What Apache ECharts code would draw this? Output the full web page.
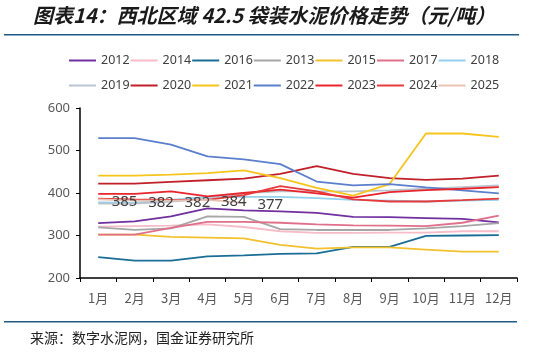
<!DOCTYPE html>
<html>
<head>
<meta charset="utf-8">
<script src="https://cdn.jsdelivr.net/npm/echarts@6/dist/echarts.min.js"></script>
<style>
html, body { margin: 0; padding: 0; background: #fff; }
#main { width: 559px; height: 353px; }
</style>
</head>
<body>
<div id="main"></div>
<script>
// 月份
var months = ['1月', '2月', '3月', '4月', '5月', '6月', '7月', '8月', '9月', '10月', '11月', '12月'];

// 各年价格（元/吨）
var y2012 = [329, 333, 345, 364, 359, 357, 353, 344, 343, 341, 339, 331];
var y2014 = [321, 322, 323, 326, 320, 310, 306, 306, 307, 307, 310, 310];
var y2016 = [249, 241, 241, 251, 253, 257, 258, 273, 273, 299, 300, 301];
var y2013 = [319, 313, 317, 345, 344, 315, 313, 313, 313, 317, 322, 329];
var y2015 = [302, 302, 297, 295, 293, 278, 269, 272, 272, 267, 262, 262];
var y2017 = [302, 302, 318, 332, 332, 330, 326, 324, 323, 322, 330, 347];
var y2018 = [378, 377, 384, 391, 391, 391, 388, 384, 382, 380, 382, 384];
var y2019 = [375, 375, 380, 386, 400, 404, 404, 404, 406, 410, 414, 418];
var y2020 = [422, 422, 426, 430, 434, 445, 463, 445, 435, 431, 434, 441];
var y2021 = [441, 441, 443, 447, 453, 435, 412, 394, 421, 540, 540, 532];
var y2022 = [529, 529, 514, 486, 479, 468, 427, 418, 421, 413, 406, 399];
var y2023 = [398, 398, 404, 392, 400, 408, 399, 389, 402, 407, 410, 414];
var y2024 = [387, 385, 384, 384, 395, 416, 404, 385, 380, 380, 383, 387];
var y2025 = [385, 382, 382, 384, 377];

var legendRow1 = ['2012', '2014', '2016', '2013', '2015', '2017', '2018'];
var legendRow2 = ['2019', '2020', '2021', '2022', '2023', '2024', '2025'];

var myChart = echarts.init(document.getElementById('main'));

function line(name, data, color, extra) {
    var s = {
        name: name,
        type: 'line',
        data: data,
        symbol: 'none',
        smooth: false,
        lineStyle: { color: color, width: 1.8 },
        itemStyle: { color: color }
    };
    if (extra) {
        for (var k in extra) s[k] = extra[k];
    }
    return s;
}

var legendBase = {
    left: 64,
    icon: 'rect',
    itemWidth: 27,
    itemHeight: 2,
    itemGap: 1,
    textStyle: { color: '#404040', fontSize: 12.5, fontFamily: 'Noto Sans' }
};

var option = {
    backgroundColor: '#fff',
    animation: false,
    graphic: [
        {
            type: 'text',
            left: 33,
            top: 5,
            style: {
                text: '图表14：西北区域 42.5 袋装水泥价格走势（元/吨）',
                fontSize: 20,
                fontWeight: 'bold',
                fontStyle: 'italic',
                fontFamily: 'Noto Sans CJK SC',
                fill: '#1a1a1a'
            }
        },
        {
            type: 'rect',
            shape: { x: 4, y: 34, width: 515, height: 1.5 },
            style: { fill: '#1f5a86' }
        },
        {
            type: 'rect',
            shape: { x: 4, y: 321, width: 513, height: 1.5 },
            style: { fill: '#1f5a86' }
        },
        {
            type: 'text',
            left: 30,
            top: 331,
            style: {
                text: '来源：数字水泥网，国金证券研究所',
                fontSize: 14,
                fontFamily: 'Noto Sans CJK SC',
                fill: '#222'
            }
        }
    ],
    legend: [
        Object.assign({}, legendBase, { top: 49, data: legendRow1 }),
        Object.assign({}, legendBase, { top: 74, data: legendRow2 })
    ],
    grid: { left: 80, right: 42, top: 108, bottom: 75 },
    xAxis: {
        type: 'category',
        data: months,
        boundaryGap: true,
        axisLine: { lineStyle: { color: '#000', width: 1.5 } },
        axisTick: { show: true, length: 4, lineStyle: { color: '#000' } },
        axisLabel: { color: '#595959', fontSize: 13, margin: 14, fontFamily: 'Noto Sans CJK SC' },
        splitLine: { show: false }
    },
    yAxis: {
        type: 'value',
        min: 200,
        max: 600,
        interval: 100,
        axisLine: { show: true, lineStyle: { color: '#000', width: 1.5 } },
        axisTick: { show: true, length: 4, lineStyle: { color: '#000' } },
        axisLabel: { color: '#595959', fontSize: 13, margin: 10, fontFamily: 'Noto Sans' },
        splitLine: { show: false }
    },
    series: [
        line('2012', y2012, '#7030a0'),
        line('2014', y2014, '#f6bcc8'),
        line('2016', y2016, '#1a6e96'),
        line('2013', y2013, '#a6a6a6'),
        line('2015', y2015, '#f2c12e'),
        line('2017', y2017, '#e0708a'),
        line('2018', y2018, '#92d0ee'),
        line('2019', y2019, '#b8c4ce'),
        line('2020', y2020, '#c0202a'),
        line('2021', y2021, '#f5c51c'),
        line('2022', y2022, '#5b7fcc'),
        line('2023', y2023, '#e8242c'),
        line('2024', y2024, '#e83a3a'),
        line('2025', y2025, '#e8c2b2', {
            symbol: 'circle',
            symbolSize: 1,
            showSymbol: true,
            label: {
                show: true,
                position: 'right',
                distance: 13,
                offset: [0, 2],
                color: '#404040',
                fontSize: 15,
                fontFamily: 'Noto Sans'
            }
        })
    ]
};

myChart.setOption(option);
</script>
</body>
</html>
